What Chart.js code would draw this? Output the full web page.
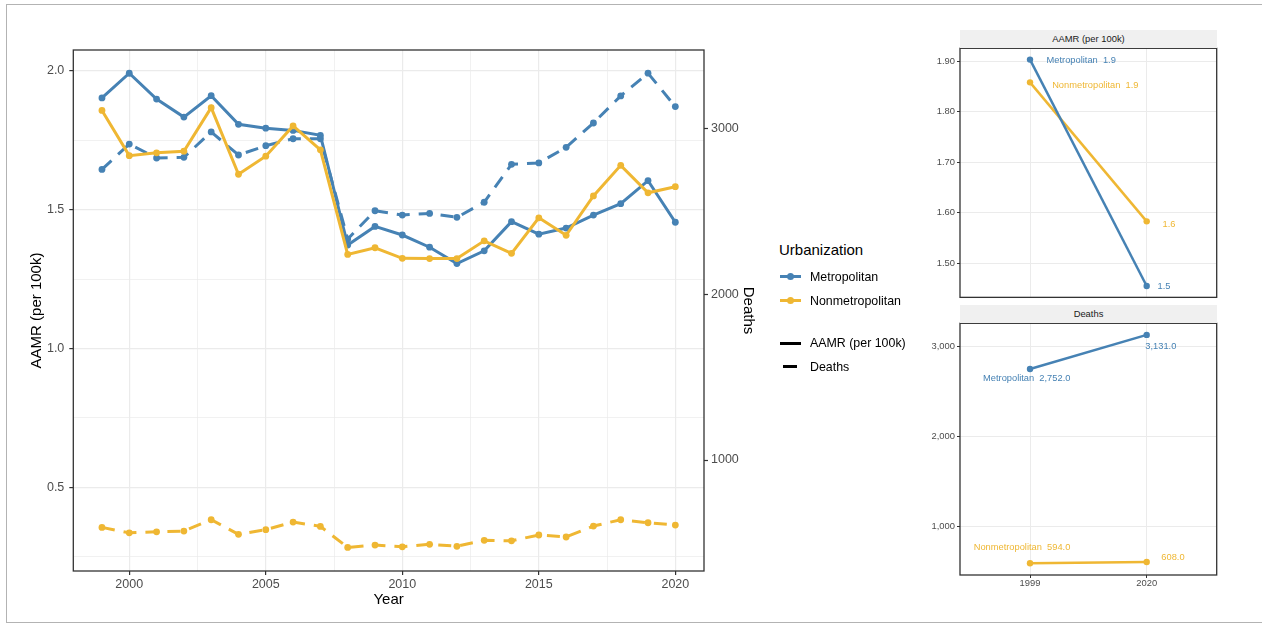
<!DOCTYPE html>
<html>
<head>
<meta charset="utf-8">
<script src="https://cdn.jsdelivr.net/npm/chart.js@4/dist/chart.umd.min.js"></script>
<style>
  html, body { margin: 0; padding: 0; background: #fff; }
  #wrap { position: relative; width: 1262px; height: 624px; overflow: hidden;
          font-family: "Liberation Sans", Arial, sans-serif; color: #1a1a1a; }
  canvas { position: absolute; }
  #frame { position: absolute; left: 6px; top: 4px; width: 1270px; height: 619px;
           border: 1.5px solid #b3b3b3; box-sizing: border-box; }
  .lg { position: absolute; white-space: nowrap; }
  .lg-title { font-size: 15px; line-height: 18px; color: #000; }
  .lg-item { font-size: 12.4px; line-height: 16px; color: #000; }
  .key { position: absolute; height: 3px; }
  .dot { position: absolute; width: 7px; height: 7px; border-radius: 50%; }
  .strip { position: absolute; background: #f0f0f0; font-size: 9.4px; text-align: center; color: #1a1a1a; }
</style>
</head>
<body>
<div id="wrap">
  <div id="frame"></div>
  <canvas id="main" width="770" height="624" style="left:0;top:0"></canvas>
  <canvas id="panelA" width="330" height="265" style="left:900px;top:40px"></canvas>
  <canvas id="panelD" width="330" height="285" style="left:900px;top:315px"></canvas>
  <div class="strip" style="left:960px;top:30px;width:257px;height:18px;line-height:18px">AAMR (per 100k)</div>
  <div class="strip" style="left:960px;top:305px;width:257px;height:18px;line-height:18px">Deaths</div>
  <div id="legend"></div>
</div>
<script>
// Yearly series, 1999-2020
const years = [1999, 2000, 2001, 2002, 2003, 2004, 2005, 2006, 2007, 2008, 2009,
               2010, 2011, 2012, 2013, 2014, 2015, 2016, 2017, 2018, 2019, 2020];
const groups = ['Metropolitan', 'Nonmetropolitan'];

// Age-adjusted mortality rate (per 100k)
const metroAAMR = [1.903, 1.992, 1.899, 1.834, 1.911, 1.808, 1.794, 1.786, 1.768, 1.373, 1.440,
                   1.409, 1.365, 1.306, 1.352, 1.457, 1.412, 1.434, 1.481, 1.522, 1.605, 1.455];
const nonmetroAAMR = [1.858, 1.695, 1.705, 1.711, 1.868, 1.628, 1.693, 1.802, 1.716, 1.339, 1.363,
                      1.325, 1.324, 1.324, 1.388, 1.343, 1.471, 1.408, 1.550, 1.660, 1.561, 1.583];

// Death counts
const metroDeaths = [2752, 2905, 2821, 2825, 2978, 2839, 2895, 2937, 2937, 2332, 2503,
                     2477, 2487, 2463, 2554, 2783, 2791, 2885, 3032, 3195, 3332, 3131];
const nonmetroDeaths = [594, 561, 567, 572, 640, 552, 580, 626, 600, 473, 487,
                        477, 492, 480, 516, 513, 548, 536, 602, 640, 622, 608];

// Axis ticks (major and minor)
const yearTicks = [2000, 2002.5, 2005, 2007.5, 2010, 2012.5, 2015, 2017.5, 2020];
const aamrTicks = [0.25, 0.5, 0.75, 1.0, 1.25, 1.5, 1.75, 2.0];
const deathTicks = [1000, 2000, 3000];
const panelYears = ['1999', '2020'];
const panelAAMRTicks = [1.5, 1.6, 1.7, 1.8, 1.9];
const panelDeathTicks = [1000, 2000, 3000];

const BLUE = '#4682B4';
const GOLD = '#EFB733';
const FONT = '"Liberation Sans", Arial, sans-serif';
const TICK_GREY = '#4d4d4d';
const GRID = '#ebebeb';
const INK = '#333333';

Chart.defaults.font.family = FONT;

const framePlugin = {
  id: 'frame',
  afterDraw(chart) {
    const { ctx, chartArea: a } = chart;
    ctx.save();
    ctx.strokeStyle = INK;
    ctx.lineWidth = 1.3;
    ctx.strokeRect(a.left, a.top, a.right - a.left, a.bottom - a.top);
    ctx.restore();
  }
};

const pts = arr => arr.map((v, i) => ({ x: years[i], y: v }));
const setTicks = list => axis => { axis.ticks = list.map(v => ({ value: v })); };

function series(label, arr, color, axis, dashed) {
  return {
    label, data: pts(arr), yAxisID: axis,
    borderColor: color, backgroundColor: color,
    borderWidth: 3, borderDash: dashed ? [13, 9] : [],
    pointRadius: 3.4, pointBorderWidth: 0, pointBackgroundColor: color,
    tension: 0, fill: false
  };
}

// Main chart: AAMR (solid, left axis) and deaths (dashed, right axis)
new Chart(document.getElementById('main'), {
  type: 'line',
  data: {
    datasets: [
      series('Nonmetropolitan AAMR', nonmetroAAMR, GOLD, 'y', false),
      series('Metropolitan AAMR', metroAAMR, BLUE, 'y', false),
      series('Nonmetropolitan Deaths', nonmetroDeaths, GOLD, 'y2', true),
      series('Metropolitan Deaths', metroDeaths, BLUE, 'y2', true)
    ]
  },
  options: {
    responsive: false, animation: false,
    layout: { padding: { top: 50, left: 0, right: 0, bottom: 0 } },
    plugins: { legend: { display: false }, tooltip: { enabled: false } },
    scales: {
      x: {
        type: 'linear', min: 1997.95, max: 2021.05,
        afterBuildTicks: setTicks(yearTicks),
        afterFit: s => { s.height = 53; },
        border: { display: false },
        grid: {
          color: GRID,
          lineWidth: c => (c.tick && c.tick.value % 5 === 0) ? 1.2 : 0.7,
          tickColor: c => (c.tick && c.tick.value % 5 === 0) ? INK : 'rgba(0,0,0,0)',
          tickLength: 4, tickWidth: 1.2
        },
        ticks: {
          autoSkip: false, maxRotation: 0, padding: 2, color: TICK_GREY,
          font: { size: 12.5 },
          callback: v => (v % 5 === 0 ? String(v) : '')
        },
        title: { display: true, text: 'Year', color: '#000', font: { size: 15 }, padding: { top: 0, bottom: 15 } }
      },
      y: {
        position: 'left', min: 0.1982, max: 2.0757,
        afterBuildTicks: setTicks(aamrTicks),
        afterFit: s => { s.width = 73.3; },
        border: { display: false },
        grid: {
          color: GRID,
          lineWidth: c => (c.tick && c.tick.value % 0.5 === 0) ? 1.2 : 0.7,
          tickColor: c => (c.tick && c.tick.value % 0.5 === 0) ? INK : 'rgba(0,0,0,0)',
          tickLength: 4, tickWidth: 1.2
        },
        ticks: {
          autoSkip: false, padding: 5, color: TICK_GREY, font: { size: 12.5 },
          callback: v => (v % 0.5 === 0 ? v.toFixed(1) : '')
        },
        title: { display: true, text: 'AAMR (per 100k)', color: '#000', font: { size: 15 }, padding: { top: 28.3, bottom: 0 } }
      },
      y2: {
        position: 'right', min: 331, max: 3472,
        afterBuildTicks: setTicks(deathTicks),
        afterFit: s => { s.width = 66; },
        border: { display: false },
        grid: { drawOnChartArea: false, tickColor: INK, tickLength: 4, tickWidth: 1.2 },
        ticks: { autoSkip: false, padding: 3, color: TICK_GREY, font: { size: 12.5 }, callback: v => String(v) },
        title: { display: true, text: 'Deaths', color: '#000', font: { size: 15 }, padding: { top: 13, bottom: 0 } }
      }
    }
  },
  plugins: [framePlugin]
});

// Legend
(function buildLegend() {
  const host = document.getElementById('legend');
  const add = html => host.insertAdjacentHTML('beforeend', html);
  add('<div class="lg lg-title" style="left:779px;top:241px">Urbanization</div>');
  const colorKeys = [[groups[0], BLUE, 276.7], [groups[1], GOLD, 300.7]];
  colorKeys.forEach(([name, col, cy]) => {
    add(`<div class="key" style="left:780px;width:21px;top:${cy - 1.5}px;background:${col}"></div>`);
    add(`<div class="dot" style="left:787px;top:${cy - 3.5}px;background:${col}"></div>`);
    add(`<div class="lg lg-item" style="left:810px;top:${cy - 8}px">${name}</div>`);
  });
  add('<div class="key" style="left:780px;width:21px;top:341.8px;background:#000"></div>');
  add('<div class="lg lg-item" style="left:810px;top:335.3px">AAMR (per 100k)</div>');
  add('<div class="key" style="left:783px;width:14px;top:365.2px;background:#000"></div>');
  add('<div class="lg lg-item" style="left:810px;top:358.7px">Deaths</div>');
})();

// Small panels: first vs last year
const first = a => a[0];
const last = a => a[a.length - 1];
const fmtRate = v => v.toFixed(1);
const fmtCount = v => v.toLocaleString('en-US', { minimumFractionDigits: 1, maximumFractionDigits: 1 });

function labelPlugin(fmt, offsets) {
  return {
    id: 'pointLabels',
    afterDatasetsDraw(chart) {
      const ctx = chart.ctx;
      ctx.save();
      ctx.font = `9.3px ${FONT}`;
      ctx.textAlign = 'center';
      ctx.textBaseline = 'middle';
      chart.data.datasets.forEach((ds, di) => {
        const meta = chart.getDatasetMeta(di);
        meta.data.forEach((pt, i) => {
          const v = ds.data[i].y;
          const txt = i === 0 ? `${groups[di]}  ${fmt(v)}` : fmt(v);
          const [dx, dy] = offsets[di][i];
          ctx.fillStyle = ds.borderColor;
          ctx.fillText(txt, pt.x + dx, pt.y + dy);
        });
      });
      ctx.restore();
    }
  };
}

function panel(id, vals, yMin, yMax, yTicks, yFmt, showX, padBottom, xHeight, fmt, offsets) {
  const cols = [BLUE, GOLD];
  new Chart(document.getElementById(id), {
    type: 'line',
    data: {
      datasets: vals.map((arr, k) => ({
        label: groups[k],
        data: arr.map((v, i) => ({ x: i, y: v })),
        borderColor: cols[k], backgroundColor: cols[k],
        borderWidth: 2.5, pointRadius: 3.2, pointBorderWidth: 0, tension: 0
      }))
    },
    options: {
      responsive: false, animation: false,
      layout: { padding: { top: 8.3, left: 0, right: 13.3, bottom: padBottom } },
      plugins: { legend: { display: false }, tooltip: { enabled: false } },
      scales: {
        x: {
          type: 'linear', min: -0.6, max: 1.6,
          afterBuildTicks: setTicks(panelYears.map((_, i) => i)),
          afterFit: s => { s.height = xHeight; },
          border: { display: false },
          grid: { color: GRID, lineWidth: 1, drawTicks: showX, tickColor: INK, tickLength: 3 },
          ticks: { display: showX, autoSkip: false, maxRotation: 0, padding: 0, color: TICK_GREY,
                   font: { size: 9.4 }, callback: v => panelYears[v] }
        },
        y: {
          min: yMin, max: yMax,
          afterBuildTicks: setTicks(yTicks),
          afterFit: s => { s.width = 60; },
          border: { display: false },
          grid: { color: GRID, lineWidth: 1, tickColor: INK, tickLength: 3 },
          ticks: { autoSkip: false, padding: 2, color: TICK_GREY, font: { size: 9.4 }, callback: yFmt }
        }
      }
    },
    plugins: [framePlugin, labelPlugin(fmt, offsets)]
  });
}

panel('panelA',
  [[first(metroAAMR), last(metroAAMR)], [first(nonmetroAAMR), last(nonmetroAAMR)]],
  1.4326, 1.9254, panelAAMRTicks, v => v.toFixed(2), false, 5.7, 0, fmtRate,
  [[[51.2, 1], [17.3, 0.3]], [[65.3, 3.3], [22.3, 3.3]]]);

panel('panelD',
  [[first(metroDeaths), last(metroDeaths)], [first(nonmetroDeaths), last(nonmetroDeaths)]],
  463, 3260, panelDeathTicks, v => v.toLocaleString('en-US'), true, 0, 25, fmtCount,
  [[[-3.3, 9.7], [14.1, 11.6]], [[-8, -15.4], [26.3, -4.6]]]);
</script>
</body>
</html>
